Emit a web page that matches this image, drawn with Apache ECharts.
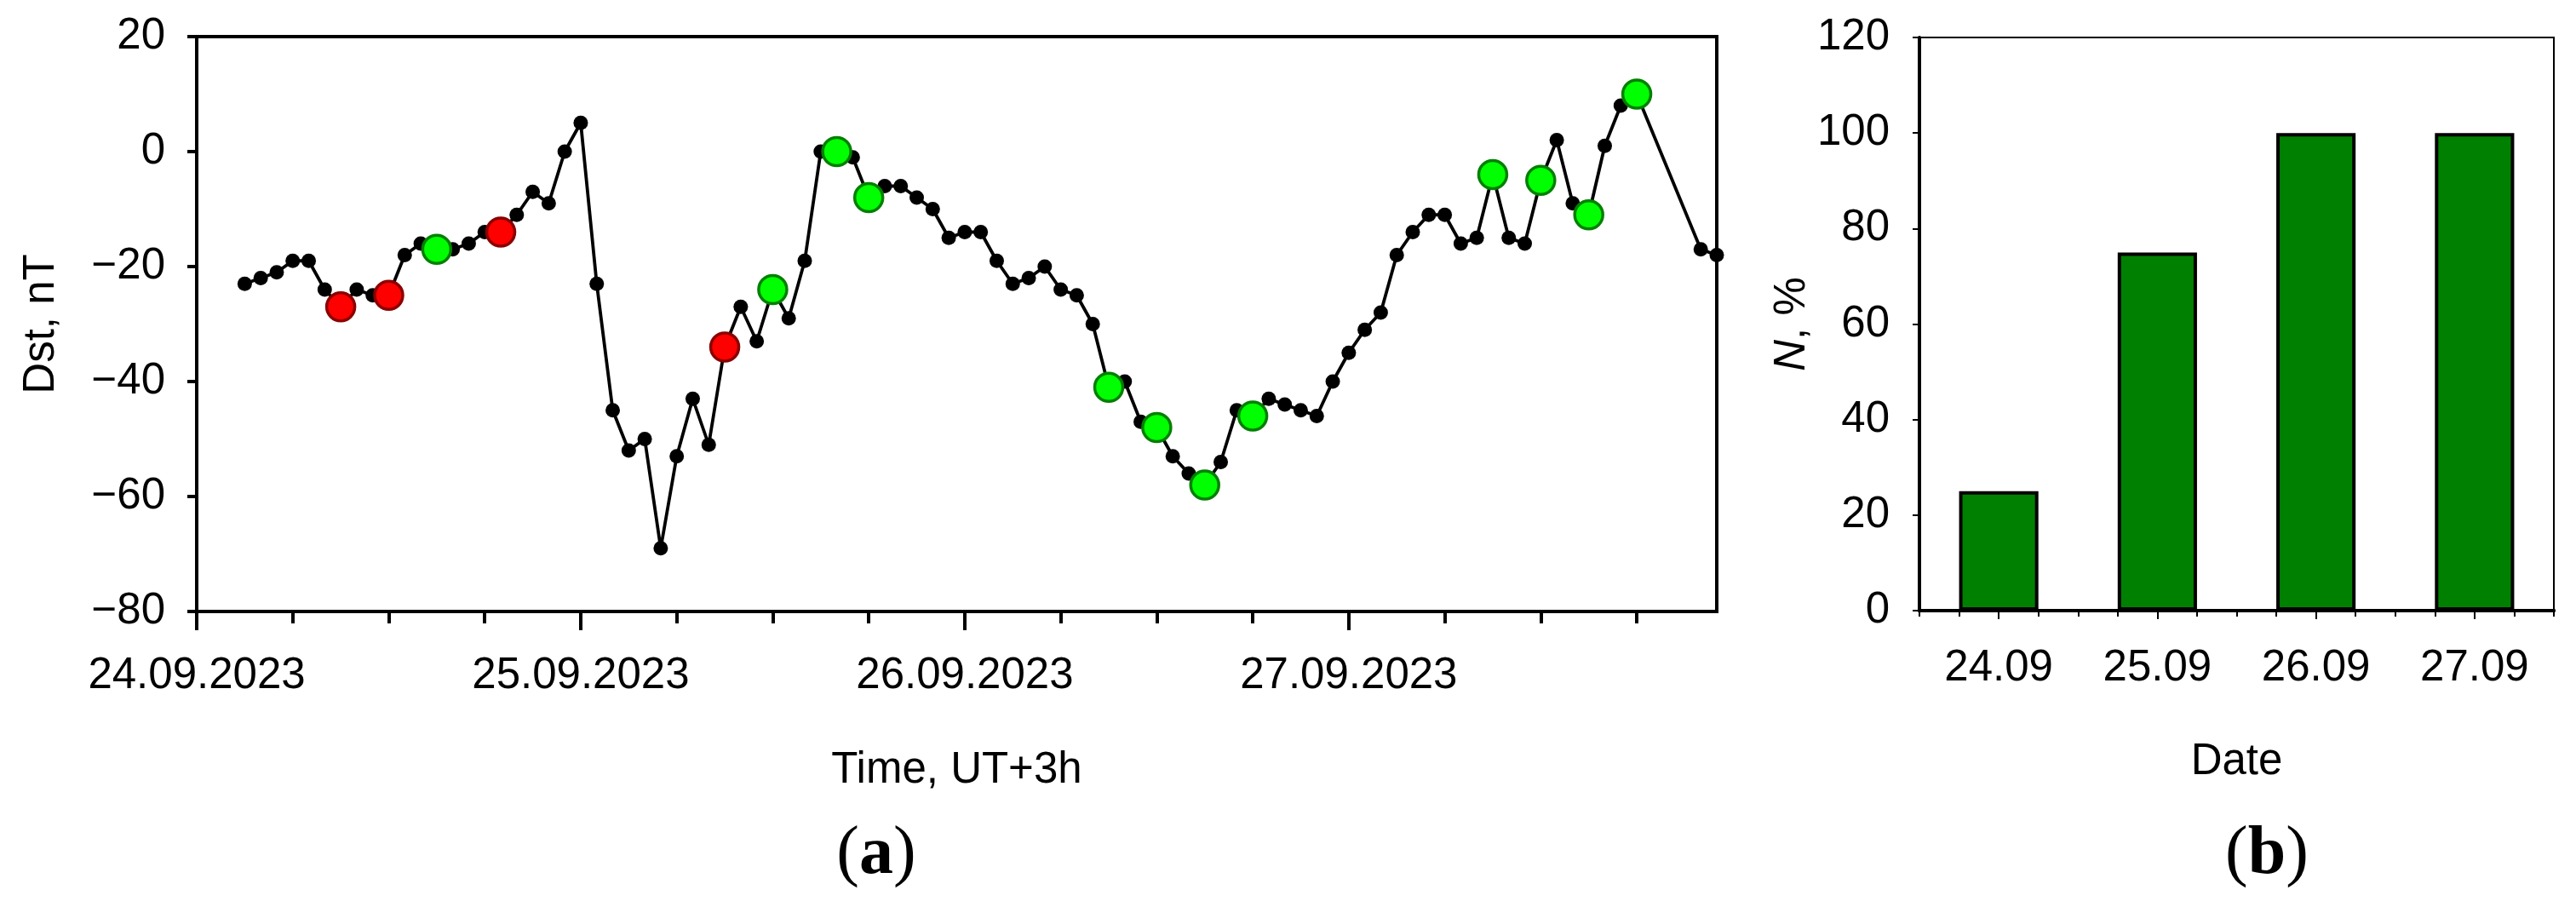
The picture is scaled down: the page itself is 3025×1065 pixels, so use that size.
<!DOCTYPE html>
<html>
<head>
<meta charset="utf-8">
<script src="https://cdn.jsdelivr.net/npm/echarts@6/dist/echarts.min.js"></script>
<style>
html,body{margin:0;padding:0;background:#ffffff;}
#chart{width:3025px;height:1065px;}
</style>
</head>
<body>
<div id="chart"></div>
<script>
// ---- Panel (a): hourly Dst, hours counted from 24.09.2023 00:00 (UT+3h) ----
const hours = [3,4,5,6,7,8,9,10,11,12,13,14,15,16,17,18,19,20,21,22,23,24,
  25,26,27,28,29,30,31,32,33,34,35,36,37,38,39,40,41,42,43,44,45,46,47,48,
  49,50,51,52,53,54,55,56,57,58,59,60,61,62,63,64,65,66,67,68,69,70,71,72,
  73,74,75,76,77,78,79,80,81,82,83,84,85,86,87,88,89,90,94,95];
const dst = [-23,-22,-21,-19,-19,-24,-27,-24,-25,-25,-18,-16,-17,-17,-16,-14,-14,-11,-7,-9,0,5,
  -23,-45,-52,-50,-69,-53,-43,-51,-34,-27,-33,-24,-29,-19,0,0,-1,-8,-6,-6,-8,-10,-15,-14,
  -14,-19,-23,-22,-20,-24,-25,-30,-41,-40,-47,-48,-53,-56,-58,-54,-45,-46,-43,-44,-45,-46,-40,-35,
  -31,-28,-18,-14,-11,-11,-16,-15,-4,-15,-16,-5,2,-9,-11,1,8,10,-17,-18];
const redHours = [9,12,19,33];
const greenHours = [15,36,40,42,57,60,63,66,81,84,87,90];
const sixHourTicks = [0,6,12,18,24,30,36,42,48,54,60,66,72,78,84,90];
const dayTicks = [0,24,48,72];
const dayLabels = ['24.09.2023','25.09.2023','26.09.2023','27.09.2023'];

// ---- Panel (b): N, % per date ----
const barDates = ['24.09','25.09','26.09','27.09'];
const barPercent = [25,75,100,100];
const barQuarterTicks = [-0.5,-0.25,0,0.25,0.5,0.75,1,1.25,1.5,1.75,2,2.25,2.5,2.75,3,3.25,3.5];

const FONT = "'Liberation Sans', Arial, sans-serif";
const SERIF = "'Liberation Serif','Times New Roman',serif";
const txt = {color:'#000', fontFamily: FONT, fontSize: 51};

const linePts = hours.map((h,i)=>[h, dst[i]]);
const pick = hs => hs.map(h => [h, dst[hours.indexOf(h)]]);

const chart = echarts.init(document.getElementById('chart'), null, {renderer:'canvas'});
chart.setOption({
  backgroundColor:'#ffffff',
  animation:false,
  grid:[
    {left:231, top:43, width:1785, height:675, show:true, borderColor:'#000', borderWidth:4, backgroundColor:'transparent', outerBoundsMode:'none', containLabel:false},
    {left:2254, top:44, width:745, height:673, show:true, borderColor:'#000', borderWidth:2, backgroundColor:'transparent', outerBoundsMode:'none', containLabel:false}
  ],
  xAxis:[
    {gridIndex:0, type:'value', min:0, max:95, position:'bottom',
     axisLine:{show:true, onZero:false, lineStyle:{color:'#000', width:4}},
     axisTick:{show:true, inside:false, length:14, customValues:sixHourTicks, lineStyle:{color:'#000', width:4}},
     axisLabel:{show:false}, splitLine:{show:false}},
    {gridIndex:0, type:'value', min:0, max:95, position:'bottom',
     axisLine:{show:true, onZero:false, lineStyle:{color:'#000', width:4}},
     axisTick:{show:true, inside:false, length:22, customValues:dayTicks, lineStyle:{color:'#000', width:4}},
     axisLabel:Object.assign({show:true, margin:50, customValues:dayTicks,
        formatter:v => { const k = dayTicks.indexOf(v); return k >= 0 ? dayLabels[k] : ''; }}, txt),
     splitLine:{show:false},
     name:'Time, UT+3h', nameLocation:'middle', nameGap:161, nameTextStyle:Object.assign({}, txt)},
    {gridIndex:1, type:'category', data:barDates, position:'bottom',
     axisLine:{show:true, onZero:false, lineStyle:{color:'#000', width:4}},
     axisTick:{show:true, alignWithLabel:true, inside:false, length:10, lineStyle:{color:'#000', width:2}},
     axisLabel:Object.assign({show:true, margin:42, interval:0}, txt),
     splitLine:{show:false},
     name:'Date', nameLocation:'middle', nameGap:152, nameTextStyle:Object.assign({}, txt)},
    {gridIndex:1, type:'value', min:-0.5, max:3.5, position:'bottom',
     axisLine:{show:true, onZero:false, lineStyle:{color:'#000', width:4}},
     axisTick:{show:true, inside:false, length:7, customValues:barQuarterTicks, lineStyle:{color:'#000', width:2}},
     axisLabel:{show:false}, splitLine:{show:false}}
  ],
  yAxis:[
    {gridIndex:0, type:'value', min:-80, max:20, interval:20,
     axisLine:{show:true, onZero:false, lineStyle:{color:'#000', width:4}},
     axisTick:{show:true, inside:false, length:11, lineStyle:{color:'#000', width:4}},
     axisLabel:Object.assign({show:true, margin:37,
        formatter:v => v < 0 ? '\u2212' + Math.abs(v) : String(v)}, txt),
     splitLine:{show:false},
     name:'Dst, nT', nameLocation:'middle', nameGap:157, nameRotate:90,
     nameTextStyle:Object.assign({}, txt)},
    {gridIndex:1, type:'value', min:0, max:120, interval:20,
     axisLine:{show:true, onZero:false, lineStyle:{color:'#000', width:4}},
     axisTick:{show:true, inside:false, length:8, lineStyle:{color:'#000', width:2}},
     axisLabel:Object.assign({show:true, margin:35}, txt),
     splitLine:{show:false},
     name:'{i|N}, %', nameLocation:'middle', nameGap:113, nameRotate:90,
     nameTextStyle:Object.assign({rich:{i:{fontStyle:'italic', fontSize:51, fontFamily:FONT, color:'#000'}}}, txt)}
  ],
  series:[
    {type:'line', xAxisIndex:0, yAxisIndex:0, data:linePts,
     symbol:'circle', symbolSize:17, showSymbol:true, connectNulls:true,
     lineStyle:{color:'#000', width:3.8}, itemStyle:{color:'#000'}, z:2, silent:true},
    {type:'scatter', xAxisIndex:0, yAxisIndex:0, data:pick(redHours),
     symbol:'circle', symbolSize:33,
     itemStyle:{color:'#ff0000', borderColor:'#8b0000', borderWidth:3.5, opacity:1}, z:3, silent:true},
    {type:'scatter', xAxisIndex:0, yAxisIndex:0, data:pick(greenHours),
     symbol:'circle', symbolSize:33,
     itemStyle:{color:'#00ff00', borderColor:'#008000', borderWidth:3.5, opacity:1}, z:3, silent:true},
    {type:'bar', xAxisIndex:2, yAxisIndex:1, data:barPercent, barWidth:'50%',
     itemStyle:{color:'#008000', borderColor:'#000', borderWidth:4}, z:2, silent:true}
  ],
  graphic:[
    {type:'text', x:1029, y:1004, z:10, silent:true,
     style:{text:'{p|(}{b|a}{p|)}', x:0, y:0, align:'center', verticalAlign:'middle',
       fill:'#000',
       rich:{p:{fontFamily:SERIF, fontSize:80, fill:'#000'},
             b:{fontFamily:SERIF, fontSize:80, fontWeight:'bold', fill:'#000'}}}},
    {type:'text', x:2662, y:1004, z:10, silent:true,
     style:{text:'{p|(}{b|b}{p|)}', x:0, y:0, align:'center', verticalAlign:'middle',
       fill:'#000',
       rich:{p:{fontFamily:SERIF, fontSize:80, fill:'#000'},
             b:{fontFamily:SERIF, fontSize:80, fontWeight:'bold', fill:'#000'}}}}
  ]
});
</script>
</body>
</html>
